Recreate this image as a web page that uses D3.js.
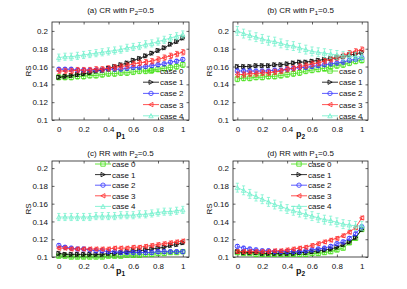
<!DOCTYPE html>
<html><head><meta charset="utf-8">
<script src="https://cdn.jsdelivr.net/npm/d3@7"></script>
<style>body{margin:0;background:#fff}svg{display:block;font-family:"Liberation Sans",Arial,sans-serif}</style>
</head><body><svg id="c" width="407" height="289"></svg>
<script>
const pValues = [0,0.05,0.1,0.15,0.2,0.25,0.3,0.35,0.4,0.45,0.5,0.55,0.6,0.65,0.7,0.75,0.8,0.85,0.9,0.95,1];
const caseNames = ["case 0","case 1","case 2","case 3","case 4"];
const caseColors = ["#40e010","#000000","#3535ff","#ff2828","#6ef0cc"];
const caseMarkers = ["square","tright","circle","tleft","tup"];
const xTicks = [0,0.2,0.4,0.6,0.8,1];
const xTickLabels = ["0","0.2","0.4","0.6","0.8","1"];
const yTicks = [0.1,0.12,0.14,0.16,0.18,0.2];
const yTickLabels = ["0.1","0.12","0.14","0.16","0.18","0.2"];

// (a) CR with P2=0.5
const crP1_case0 = [0.148,0.148,0.148,0.149,0.149,0.150,0.150,0.151,0.152,0.152,0.153,0.153,0.154,0.155,0.155,0.156,0.157,0.158,0.159,0.160,0.162];
const crP1_case1 = [0.148,0.149,0.150,0.151,0.152,0.153,0.155,0.156,0.158,0.160,0.162,0.164,0.167,0.169,0.172,0.175,0.178,0.181,0.185,0.188,0.192];
const crP1_case2 = [0.157,0.157,0.157,0.156,0.156,0.156,0.156,0.156,0.157,0.157,0.157,0.158,0.159,0.159,0.160,0.161,0.162,0.163,0.165,0.166,0.168];
const crP1_case3 = [0.155,0.155,0.155,0.156,0.156,0.156,0.157,0.157,0.158,0.159,0.160,0.161,0.163,0.164,0.165,0.166,0.168,0.170,0.172,0.174,0.176];
const crP1_case4 = [0.170,0.171,0.171,0.172,0.173,0.174,0.175,0.176,0.177,0.178,0.179,0.181,0.182,0.183,0.185,0.186,0.188,0.190,0.192,0.194,0.196];
const crP1_err = [0.003,0.002,0.002,0.003,0.004];
// (b) CR with P1=0.5
const crP2_case0 = [0.146,0.147,0.147,0.148,0.148,0.149,0.149,0.150,0.151,0.152,0.153,0.155,0.156,0.157,0.158,0.160,0.161,0.162,0.164,0.166,0.167];
const crP2_case1 = [0.160,0.160,0.160,0.161,0.161,0.161,0.162,0.162,0.163,0.164,0.165,0.165,0.166,0.167,0.168,0.169,0.170,0.171,0.173,0.174,0.176];
const crP2_case2 = [0.155,0.155,0.155,0.155,0.155,0.155,0.156,0.156,0.157,0.158,0.159,0.159,0.160,0.161,0.162,0.163,0.164,0.165,0.167,0.168,0.170];
const crP2_case3 = [0.151,0.151,0.152,0.152,0.153,0.153,0.154,0.155,0.157,0.158,0.160,0.161,0.163,0.164,0.166,0.168,0.170,0.172,0.175,0.177,0.179];
const crP2_case4 = [0.200,0.197,0.195,0.193,0.191,0.189,0.188,0.186,0.184,0.183,0.181,0.179,0.177,0.176,0.175,0.174,0.173,0.172,0.172,0.171,0.171];
const crP2_err = [0.003,0.002,0.002,0.003,0.005];
// (c) RR with P2=0.5
const rrP1_case0 = [0.101,0.101,0.100,0.100,0.100,0.100,0.100,0.100,0.101,0.101,0.101,0.102,0.102,0.102,0.103,0.103,0.104,0.104,0.105,0.105,0.106];
const rrP1_case1 = [0.104,0.103,0.103,0.103,0.103,0.103,0.103,0.103,0.104,0.104,0.105,0.106,0.107,0.107,0.108,0.109,0.110,0.111,0.113,0.114,0.116];
const rrP1_case2 = [0.113,0.111,0.110,0.109,0.109,0.108,0.107,0.107,0.106,0.106,0.105,0.105,0.105,0.105,0.105,0.105,0.106,0.106,0.106,0.106,0.106];
const rrP1_case3 = [0.110,0.110,0.109,0.109,0.109,0.109,0.109,0.109,0.109,0.110,0.110,0.110,0.111,0.111,0.112,0.113,0.114,0.115,0.116,0.117,0.118];
const rrP1_case4 = [0.145,0.145,0.145,0.145,0.145,0.145,0.146,0.146,0.146,0.146,0.147,0.147,0.147,0.148,0.148,0.149,0.150,0.151,0.151,0.152,0.153];
const rrP1_err = [0.002,0.002,0.002,0.002,0.004];
// (d) RR with P1=0.5
const rrP2_case0 = [0.105,0.104,0.104,0.103,0.103,0.103,0.103,0.103,0.103,0.103,0.103,0.103,0.104,0.104,0.105,0.106,0.108,0.110,0.116,0.121,0.131];
const rrP2_case1 = [0.106,0.105,0.105,0.105,0.104,0.104,0.104,0.104,0.104,0.104,0.105,0.105,0.106,0.107,0.108,0.109,0.111,0.114,0.117,0.122,0.131];
const rrP2_case2 = [0.112,0.110,0.109,0.108,0.107,0.107,0.106,0.106,0.106,0.106,0.106,0.107,0.108,0.109,0.110,0.112,0.115,0.117,0.121,0.126,0.134];
const rrP2_case3 = [0.106,0.106,0.106,0.106,0.106,0.106,0.107,0.107,0.108,0.109,0.110,0.111,0.113,0.115,0.117,0.119,0.121,0.124,0.128,0.133,0.144];
const rrP2_case4 = [0.178,0.175,0.171,0.168,0.165,0.162,0.159,0.157,0.154,0.152,0.150,0.148,0.146,0.144,0.142,0.141,0.139,0.137,0.136,0.135,0.135];
const rrP2_err = [0.002,0.002,0.002,0.002,0.005];

const panels = [
  {title:["(a) CR with P","2","=0.5"], ty:13, xl:"1", box:[52,189,22,120], xd:[-0.055,1.05], yd:[0.1,0.21],
   series:[crP1_case0,crP1_case1,crP1_case2,crP1_case3,crP1_case4], err:crP1_err, legend:{x:143,y:71,dy:11.2}},
  {title:["(b) CR with P","1","=0.5"], ty:13, xl:"2", box:[233,368,22,120], xd:[-0.035,1.05], yd:[0.1,0.21],
   series:[crP2_case0,crP2_case1,crP2_case2,crP2_case3,crP2_case4], err:crP2_err, legend:{x:322,y:71,dy:11.2}},
  {title:["(c) RR with P","2","=0.5"], ty:156, xl:"1", box:[52,189,161,257], xd:[-0.055,1.05], yd:[0.1,0.208],
   series:[rrP1_case0,rrP1_case1,rrP1_case2,rrP1_case3,rrP1_case4], err:rrP1_err, legend:{x:95,y:164,dy:10.6}},
  {title:["(d) RR with P","1","=0.5"], ty:156, xl:"2", box:[233,368,161,257], xd:[-0.035,1.05], yd:[0.1,0.208],
   series:[rrP2_case0,rrP2_case1,rrP2_case2,rrP2_case3,rrP2_case4], err:rrP2_err, legend:{x:291,y:164,dy:10.6}}
];

const svg = d3.select("#c");

function markerPath(type, r){
  switch(type){
    case "square": return `M${-r},${-r}H${r}V${r}H${-r}Z`;
    case "circle": return d3.symbol(d3.symbolCircle, Math.PI*r*r)();
    case "tright": return `M${-r*0.9},${-r}L${r},0L${-r*0.9},${r}Z`;
    case "tleft": return `M${r*0.9},${-r}L${-r},0L${r*0.9},${r}Z`;
    case "tup": return `M${-r},${r*0.9}L0,${-r}L${r},${r*0.9}Z`;
  }
}

panels.forEach(p=>{
  const [L,R,T,B] = p.box;
  const x = d3.scaleLinear().domain(p.xd).range([L,R]);
  const y = d3.scaleLinear().domain(p.yd).range([B,T]);
  const g = svg.append("g");
  g.append("rect").attr("x",L).attr("y",T).attr("width",R-L).attr("height",B-T)
    .attr("fill","#fff").attr("stroke","#222").attr("stroke-width",0.8);
  const xa = g.append("g").attr("transform",`translate(0,${B})`)
    .call(d3.axisBottom(x).tickValues(xTicks).tickFormat((d,i)=>xTickLabels[i]).tickSizeInner(-2.5).tickSizeOuter(0).tickPadding(6));
  const xa2 = g.append("g").attr("transform",`translate(0,${T})`)
    .call(d3.axisTop(x).tickValues(xTicks).tickFormat("").tickSizeInner(-2.5).tickSizeOuter(0));
  const ya = g.append("g").attr("transform",`translate(${L},0)`)
    .call(d3.axisLeft(y).tickValues(yTicks).tickFormat((d,i)=>yTickLabels[i]).tickSizeInner(-2.5).tickSizeOuter(0).tickPadding(4));
  const ya2 = g.append("g").attr("transform",`translate(${R},0)`)
    .call(d3.axisRight(y).tickValues(yTicks).tickFormat("").tickSizeInner(-2.5).tickSizeOuter(0));
  [xa,xa2,ya,ya2].forEach(a=>{
    a.select(".domain").remove();
    a.selectAll("line").attr("stroke","#222").attr("stroke-width",0.7);
    a.selectAll("text").attr("font-size",8).attr("fill","#111").attr("font-family","Liberation Sans, Arial, sans-serif");
  });
  p.series.forEach((vals,ci)=>{
    const col = caseColors[ci];
    const sg = g.append("g");
    const e = p.err[ci];
    const pts = pValues.map((v,i)=>[v,vals[i]]);
    pts.forEach(([px,py])=>{
      const cx = x(px), y1 = y(py+e), y0 = y(Math.max(py-e, p.yd[0]-0.01));
      sg.append("path").attr("d",`M${cx},${y0}V${y1}M${cx-1.6},${y1}H${cx+1.6}M${cx-1.6},${y0}H${cx+1.6}`)
        .attr("stroke",col).attr("stroke-width",0.7).attr("fill","none");
    });
    sg.append("path").datum(pts).attr("d",d3.line().x(d=>x(d[0])).y(d=>y(d[1])))
      .attr("fill","none").attr("stroke",col).attr("stroke-width",0.8);
    sg.selectAll(".m").data(pts).enter().append("path")
      .attr("transform",d=>`translate(${x(d[0])},${y(d[1])})`)
      .attr("d",markerPath(caseMarkers[ci],2.2))
      .attr("fill","none").attr("stroke",col).attr("stroke-width",0.8);
  });
  const lg = g.append("g");
  caseNames.forEach((nm,ci)=>{
    const ly = p.legend.y + ci*p.legend.dy, lx = p.legend.x;
    lg.append("line").attr("x1",lx).attr("x2",lx+16).attr("y1",ly).attr("y2",ly)
      .attr("stroke",caseColors[ci]).attr("stroke-width",0.8);
    lg.append("path").attr("transform",`translate(${lx+8},${ly})`).attr("d",markerPath(caseMarkers[ci],2.2))
      .attr("fill","none").attr("stroke",caseColors[ci]).attr("stroke-width",0.8);
    lg.append("text").attr("x",lx+17).attr("y",ly+3).attr("font-size",8).attr("fill","#111").text(nm);
  });
  const cx = (L+R)/2;
  const tt = g.append("text").attr("x",cx).attr("y",p.ty).attr("text-anchor","middle").attr("font-size",8).attr("fill","#111");
  tt.append("tspan").text(p.title[0]);
  tt.append("tspan").attr("dy",2).attr("font-size",6).text(p.title[1]);
  tt.append("tspan").attr("dy",-2).text(p.title[2]);
  const xl = g.append("text").attr("x",cx).attr("y",B+17).attr("text-anchor","middle").attr("font-size",9).attr("font-weight","bold").attr("fill","#111");
  xl.append("tspan").text("p");
  xl.append("tspan").attr("dy",2).attr("font-size",6.5).text(p.xl);
  g.append("text").attr("transform",`translate(${L-21},${(T+B)/2}) rotate(-90)`).attr("text-anchor","middle")
    .attr("font-size",8).attr("fill","#111").text("RS");
});
</script></body></html>
